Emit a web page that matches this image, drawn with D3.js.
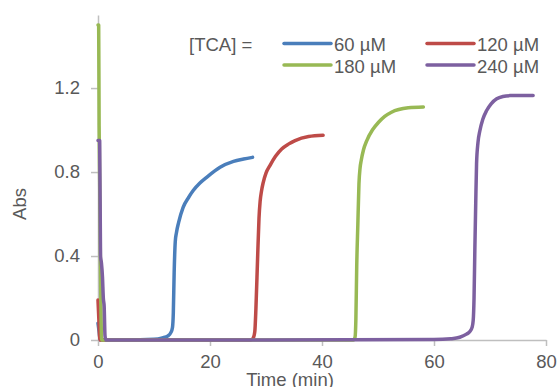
<!DOCTYPE html>
<html>
<head>
<meta charset="utf-8" />
<title>Abs vs time</title>
<script src="https://d3js.org/d3.v7.min.js"></script>
<style>
body { margin: 0; background: #fff; }
svg { font-family: "Liberation Sans", Arial, sans-serif; }
.axis path, .axis line { stroke: #bfbfbf; stroke-width: 1.5px; }
.axis text { fill: #595959; font-size: 18.5px; }
.lbl { fill: #595959; font-size: 18.5px; }
</style>
</head>
<body>
<div id="chart"></div>
<script>
// series values: time (min) and absorbance
var seriesNames = ["60 µM", "120 µM", "180 µM", "240 µM"];
var seriesColors = ["#4a7ebb", "#be4b48", "#98b954", "#7d60a0"];

var t60 = [0, 0.2, 0.4, 5, 10, 11.5, 12.5, 13.0, 13.3, 13.45, 13.6, 13.8, 14.0, 14.4, 15.2, 16.2, 17.0, 18.2, 19.4, 21.8, 24.2, 26, 27.6];
var abs60 = [0.08, 0.04, 0, 0, 0.003, 0.01, 0.02, 0.035, 0.06, 0.13, 0.32, 0.47, 0.51, 0.56, 0.632, 0.68, 0.712, 0.748, 0.775, 0.823, 0.851, 0.862, 0.87];

var t120 = [0, 0.15, 0.35, 10, 27.3, 27.7, 28.0, 28.2, 28.5, 28.75, 28.95, 29.2, 29.5, 30.0, 30.7, 31.7, 32.8, 34.0, 35.2, 37.6, 40.2];
var abs120 = [0.19, 0.1, 0, 0, 0, 0.008, 0.04, 0.15, 0.39, 0.58, 0.66, 0.71, 0.75, 0.795, 0.831, 0.875, 0.91, 0.933, 0.95, 0.969, 0.975];

var t180 = [0, 0.12, 0.2, 0.3, 0.4, 0.5, 0.65, 20, 45.6, 45.9, 46.05, 46.2, 46.4, 46.6, 46.8, 47.0, 47.4, 48.0, 49.0, 50.1, 51.2, 52.4, 55.4, 58.1];
var abs180 = [1.5, 1.5, 1.02, 0.75, 0.45, 0.2, 0, 0, 0, 0.013, 0.1, 0.35, 0.55, 0.744, 0.82, 0.855, 0.905, 0.95, 1.0, 1.037, 1.065, 1.085, 1.106, 1.11];

var t240 = [0, 0.3, 0.45, 0.6, 0.8, 0.95, 1.1, 1.25, 1.4, 30, 60, 63, 64.6, 65.8, 66.4, 66.8, 67.0, 67.15, 67.3, 67.45, 67.6, 67.85, 68.2, 68.7, 69.4, 70.2, 71.2, 72.3, 73.6, 75.5, 77.7];
var abs240 = [0.95, 0.95, 0.4, 0.37, 0.3, 0.2, 0.16, 0.02, 0, 0, 0.002, 0.006, 0.013, 0.028, 0.04, 0.06, 0.093, 0.2, 0.44, 0.65, 0.84, 0.94, 0.998, 1.05, 1.093, 1.125, 1.149, 1.16, 1.164, 1.165, 1.165];

var xTicks = [0, 20, 40, 60, 80];
var yTicks = [0, 0.4, 0.8, 1.2];
var yTickLabels = ["0", "0.4", "0.8", "1.2"];

var width = 558, height = 387;

var svg = d3.select("#chart").append("svg")
    .attr("width", width)
    .attr("height", height);

/* scales: axis top sits a little above 1.5 */
var x = d3.scaleLinear().domain([0, 80]).range([98, 546]);
var y = d3.scaleLinear().domain([0, 1.548]).range([340, 15]);

svg.append("g").attr("class", "axis")
    .attr("transform", "translate(0,340)")
    .call(d3.axisBottom(x).tickValues(xTicks).tickSize(6).tickSizeOuter(0).tickPadding(9))
    .selectAll("text").style("font-size", "18.5px");

svg.append("g").attr("class", "axis")
    .attr("transform", "translate(98,0)")
    .call(d3.axisLeft(y).tickValues(yTicks).tickSize(7).tickSizeOuter(0).tickPadding(11)
        .tickFormat(function(d, i) { return yTickLabels[i]; }));

d3.selectAll(".axis .domain").attr("stroke", "#bfbfbf");

svg.append("text").attr("class", "lbl")
    .attr("transform", "translate(26,204) rotate(-90)")
    .attr("text-anchor", "middle")
    .text("Abs");

svg.append("text").attr("class", "lbl")
    .attr("x", 290).attr("y", 386)
    .attr("text-anchor", "middle")
    .text("Time (min)");

/* the lines */
var series = [
    { t: t60, a: abs60 },
    { t: t120, a: abs120 },
    { t: t180, a: abs180 },
    { t: t240, a: abs240 }
];

var line = d3.line()
    .x(function(d) { return x(d[0]); })
    .y(function(d) { return y(d[1]); })
    .curve(d3.curveMonotoneX);

series.forEach(function(s, i) {
    var pts = s.t.map(function(v, j) { return [v, s.a[j]]; });
    svg.append("path")
        .attr("d", line(pts))
        .attr("fill", "none")
        .attr("stroke", seriesColors[i])
        .attr("stroke-width", 3.5)
        .attr("stroke-linejoin", "round")
        .attr("stroke-linecap", "round");
});

/* legend */
svg.append("text").attr("class", "lbl")
    .attr("x", 189).attr("y", 44)
    .attr("dominant-baseline", "central")
    .text("[TCA] =");

var legX = [284, 427], legY = [43.5, 65];
seriesNames.forEach(function(n, i) {
    var lx = legX[i % 2], ly = legY[Math.floor(i / 2)];
    svg.append("line")
        .attr("x1", lx).attr("x2", lx + 47)
        .attr("y1", ly).attr("y2", ly)
        .attr("stroke", seriesColors[i])
        .attr("stroke-width", 3.5)
        .attr("stroke-linecap", "round");
    svg.append("text").attr("class", "lbl")
        .attr("x", lx + 50).attr("y", ly + 1)
        .attr("dominant-baseline", "central")
        .text(n);
});
</script>
</body>
</html>
